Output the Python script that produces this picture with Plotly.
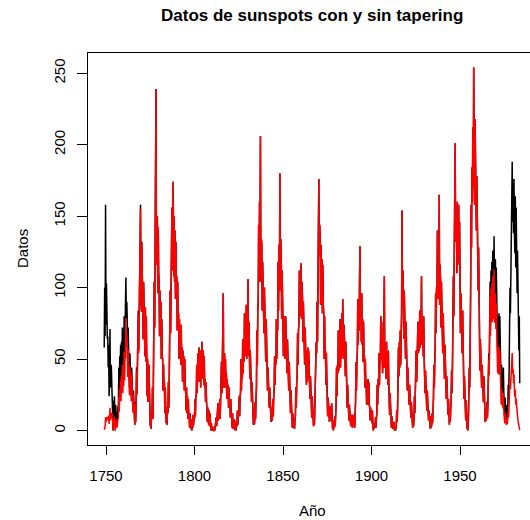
import numpy as np
import plotly.graph_objects as go

# Monthly sunspot numbers at ~quarterly resolution (1749 - 1983)
start_year = 1749
per_year = 4
sunspots = [
    58, 100, 66, 158,    # 1749
    74, 103, 84, 64,     # 1750
    66, 44, 60, 24,      # 1751
    36, 71, 30, 46,      # 1752
    45, 32, 39, 7,       # 1753
    0, 21, 12, 24,       # 1754
    11, 0, 18, 6,        # 1755
    13, 4, 12, 17,       # 1756
    16, 44, 24, 52,      # 1757
    38, 60, 34, 62,      # 1758
    44, 72, 40, 62,      # 1759
    46, 80, 50, 76,      # 1760
    70, 107, 78, 90,     # 1761
    78, 48, 72, 44,      # 1762
    58, 30, 54, 36,      # 1763
    48, 24, 44, 28,      # 1764
    30, 14, 28, 12,      # 1765
    16, 4, 20, 6,        # 1766
    20, 44, 26, 62,      # 1767
    46, 84, 56, 94,      # 1768
    80, 112, 158, 90,    # 1769
    84, 132, 80, 104,    # 1770
    64, 104, 66, 92,     # 1771
    52, 86, 48, 80,      # 1772
    46, 24, 50, 20,      # 1773
    24, 46, 18, 36,      # 1774
    3, 12, 1, 11,        # 1775
    10, 30, 8, 32,       # 1776
    54, 104, 72, 138,    # 1777
    178, 239, 116, 150,  # 1778
    150, 96, 142, 110,   # 1779
    104, 66, 98, 68,     # 1780
    90, 50, 78, 52,      # 1781
    50, 28, 46, 30,      # 1782
    34, 12, 30, 14,      # 1783
    5, 16, 4, 15,        # 1784
    12, 34, 16, 38,      # 1785
    56, 98, 68, 112,     # 1786
    104, 156, 112, 174,  # 1787
    160, 108, 150, 104,  # 1788
    140, 92, 132, 102,   # 1789
    108, 70, 104, 76,    # 1790
    82, 50, 78, 54,      # 1791
    72, 46, 74, 48,      # 1792
    58, 34, 56, 36,      # 1793
    52, 28, 50, 32,      # 1794
    28, 14, 30, 12,      # 1795
    24, 8, 22, 10,       # 1796
    10, 2, 12, 2,        # 1797
    1, 8, 0, 7,          # 1798
    2, 11, 4, 10,        # 1799
    8, 22, 10, 24,       # 1800
    24, 46, 26, 42,      # 1801
    54, 34, 58, 36,      # 1802
    34, 56, 30, 52,      # 1803
    40, 62, 36, 56,      # 1804
    54, 32, 52, 30,      # 1805
    36, 20, 34, 22,      # 1806
    14, 6, 16, 5,        # 1807
    4, 14, 3, 12,        # 1808
    4, 0, 5, 1,          # 1809
    0, 1, 0, 0,          # 1810
    0, 3, 0, 4,          # 1811
    2, 9, 3, 8,          # 1812
    8, 19, 7, 17,        # 1813
    9, 22, 8, 19,        # 1814
    22, 48, 26, 50,      # 1815
    34, 96, 30, 46,      # 1816
    54, 30, 50, 32,      # 1817
    40, 22, 36, 24,      # 1818
    32, 16, 30, 18,      # 1819
    21, 9, 22, 10,       # 1820
    10, 2, 12, 3,        # 1821
    1, 8, 1, 7,          # 1822
    0, 4, 0, 4,          # 1823
    3, 14, 4, 14,        # 1824
    10, 24, 10, 24,      # 1825
    26, 50, 28, 44,      # 1826
    36, 64, 40, 60,      # 1827
    48, 82, 52, 78,      # 1828
    52, 88, 50, 80,      # 1829
    58, 106, 52, 76,     # 1830
    60, 36, 56, 40,      # 1831
    36, 20, 34, 20,      # 1832
    12, 4, 14, 4,        # 1833
    6, 20, 8, 22,        # 1834
    30, 70, 46, 84,      # 1835
    90, 144, 104, 160,   # 1836
    132, 206, 104, 134,  # 1837
    130, 84, 118, 86,    # 1838
    106, 68, 100, 70,    # 1839
    82, 48, 78, 52,      # 1840
    48, 28, 44, 28,      # 1841
    32, 16, 30, 18,      # 1842
    14, 6, 16, 7,        # 1843
    8, 22, 10, 24,       # 1844
    28, 52, 32, 50,      # 1845
    46, 78, 50, 74,      # 1846
    70, 118, 84, 130,    # 1847
    104, 180, 98, 134,   # 1848
    122, 78, 112, 76,    # 1849
    84, 52, 80, 54,      # 1850
    78, 50, 80, 52,      # 1851
    66, 40, 64, 46,      # 1852
    52, 28, 48, 30,      # 1853
    28, 12, 28, 14,      # 1854
    10, 2, 12, 3,        # 1855
    2, 7, 1, 7,          # 1856
    10, 30, 16, 34,      # 1857
    38, 68, 46, 70,      # 1858
    76, 112, 82, 106,    # 1859
    80, 117, 78, 104,    # 1860
    92, 62, 90, 66,      # 1861
    72, 46, 72, 48,      # 1862
    54, 32, 56, 34,      # 1863
    58, 36, 56, 38,      # 1864
    38, 22, 38, 24,      # 1865
    22, 9, 24, 11,       # 1866
    10, 3, 12, 4,        # 1867
    18, 44, 28, 62,      # 1868
    54, 90, 62, 94,      # 1869
    112, 176, 122, 144,  # 1870
    136, 88, 130, 92,    # 1871
    120, 82, 116, 88,    # 1872
    82, 50, 80, 52,      # 1873
    56, 32, 54, 36,      # 1874
    24, 10, 23, 11,      # 1875
    15, 6, 17, 7,        # 1876
    17, 7, 19, 7,        # 1877
    1, 6, 0, 7,          # 1878
    2, 10, 3, 11,        # 1879
    18, 44, 24, 46,      # 1880
    40, 70, 42, 66,      # 1881
    46, 78, 44, 72,      # 1882
    50, 82, 52, 92,      # 1883
    76, 50, 74, 50,      # 1884
    64, 38, 62, 42,      # 1885
    34, 16, 32, 18,      # 1886
    19, 7, 18, 8,        # 1887
    10, 3, 11, 3,        # 1888
    9, 2, 11, 3,         # 1889
    3, 11, 2, 12,        # 1890
    20, 48, 28, 50,      # 1891
    54, 92, 60, 88,      # 1892
    70, 106, 129, 76,    # 1893
    94, 62, 96, 60,      # 1894
    78, 48, 76, 52,      # 1895
    52, 30, 50, 34,      # 1896
    34, 18, 32, 20,      # 1897
    36, 18, 34, 18,      # 1898
    16, 7, 16, 8,        # 1899
    13, 5, 14, 6,        # 1900
    0, 5, 1, 5,          # 1901
    2, 9, 2, 8,          # 1902
    12, 32, 18, 36,      # 1903
    30, 54, 32, 52,      # 1904
    48, 80, 50, 76,      # 1905
    64, 40, 66, 44,      # 1906
    76, 108, 44, 54,     # 1907
    60, 36, 62, 36,      # 1908
    54, 32, 56, 34,      # 1909
    26, 11, 26, 12,      # 1910
    9, 2, 10, 2,         # 1911
    1, 6, 2, 6,          # 1912
    0, 3, 0, 3,          # 1913
    3, 14, 6, 16,        # 1914
    32, 58, 38, 62,      # 1915
    44, 70, 46, 68,      # 1916
    82, 154, 88, 112,    # 1917
    96, 64, 98, 66,      # 1918
    78, 50, 76, 52,      # 1919
    46, 28, 44, 32,      # 1920
    34, 18, 32, 20,      # 1921
    19, 9, 20, 9,        # 1922
    8, 2, 10, 3,         # 1923
    8, 24, 12, 26,       # 1924
    30, 56, 34, 60,      # 1925
    52, 76, 54, 74,      # 1926
    56, 84, 58, 78,      # 1927
    64, 108, 60, 76,     # 1928
    78, 52, 80, 52,      # 1929
    44, 26, 42, 30,      # 1930
    28, 14, 28, 14,      # 1931
    15, 7, 14, 8,        # 1932
    9, 1, 10, 2,         # 1933
    4, 12, 5, 14,        # 1934
    22, 46, 30, 48,      # 1935
    60, 96, 68, 100,     # 1936
    96, 140, 92, 132,    # 1937
    92, 165, 88, 116,    # 1938
    106, 72, 104, 74,    # 1939
    82, 54, 82, 54,      # 1940
    58, 36, 60, 36,      # 1941
    38, 22, 38, 24,      # 1942
    21, 11, 22, 11,      # 1943
    4, 14, 6, 15,        # 1944
    20, 42, 26, 46,      # 1945
    70, 108, 80, 116,    # 1946
    128, 201, 140, 132,  # 1947
    150, 110, 160, 124,  # 1948
    140, 158, 116, 146,  # 1949
    98, 68, 96, 72,      # 1950
    82, 54, 84, 56,      # 1951
    40, 22, 38, 26,      # 1952
    19, 7, 21, 8,        # 1953
    1, 8, 0, 8,          # 1954
    22, 44, 30, 56,      # 1955
    96, 158, 128, 184,   # 1956
    160, 212, 170, 254,  # 1957
    206, 158, 218, 162,  # 1958
    190, 140, 178, 130,  # 1959
    146, 98, 128, 80,    # 1960
    66, 42, 64, 40,      # 1961
    44, 30, 46, 28,      # 1962
    34, 20, 38, 18,      # 1963
    14, 6, 14, 7,        # 1964
    11, 20, 9, 19,       # 1965
    30, 54, 42, 62,      # 1966
    104, 74, 112, 86,    # 1967
    118, 88, 126, 92,    # 1968
    98, 136, 92, 96,     # 1969
    120, 90, 114, 94,    # 1970
    82, 54, 80, 54,      # 1971
    82, 56, 80, 60,      # 1972
    50, 28, 46, 28,      # 1973
    40, 26, 44, 26,      # 1974
    21, 9, 23, 10,       # 1975
    14, 8, 18, 10,       # 1976
    16, 32, 22, 42,      # 1977
    74, 100, 82, 116,    # 1978
    134, 166, 188, 146,  # 1979
    168, 138, 176, 138,  # 1980
    124, 164, 114, 156,  # 1981
    138, 96, 126, 94,    # 1982
    92, 56, 80, 33,      # 1983
]

x_ticks = [1750, 1800, 1850, 1900, 1950]
y_ticks = [0, 50, 100, 150, 200, 250]

title_text = "Datos de sunspots con y sin tapering"
x_label = "Año"
y_label = "Datos"

# ---- series and its tapered version (10% cosine taper at each end) ----
y = np.array(sunspots, dtype=float)
n = len(y)
t = start_year + np.arange(n) / per_year
m = int(np.floor(n * 0.1))
w = np.sin(np.pi * np.arange(1, 2 * m, 2) / (4 * m))
tapered = y.copy()
tapered[:m] *= w
tapered[n - m:] *= w[::-1]

FONT = "Liberation Sans, Arial, Helvetica, sans-serif"

fig = go.Figure()
fig.add_trace(go.Scatter(x=t, y=y, mode="lines",
                         line=dict(color="black", width=1.5), hoverinfo="skip"))
fig.add_trace(go.Scatter(x=t, y=tapered, mode="lines",
                         line=dict(color="#ff0000", width=1.5), hoverinfo="skip"))

L, T, B = 88, 53, 75
W, H = 530, 520
pw = W - L
ph = H - T - B

fig.update_layout(
    width=W, height=H,
    margin=dict(l=L, r=0, t=T, b=B, pad=0),
    paper_bgcolor="white", plot_bgcolor="white",
    showlegend=False,
    font=dict(family=FONT, size=15, color="black"),
)
fig.update_xaxes(
    range=[1739.83, 1989.55], tickvals=x_ticks, ticktext=[str(v) for v in x_ticks],
    showgrid=False, zeroline=False, showline=True, linecolor="black", linewidth=1,
    mirror=True, ticks="outside", ticklen=9, tickwidth=1, tickcolor="black",
    ticklabelstandoff=8, tickfont=dict(size=15, family=FONT),
)
fig.update_yaxes(
    range=[-10.16, 264.16], tickvals=y_ticks, ticktext=[str(v) for v in y_ticks],
    showgrid=False, zeroline=False, showline=True, linecolor="black", linewidth=1,
    mirror=False, ticks="outside", ticklen=10, tickwidth=1, tickcolor="black",
    tickangle=-90, ticklabelstandoff=6, tickfont=dict(size=15, family=FONT),
)

cx = (312 - L) / pw
fig.add_annotation(text="<b>" + title_text + "</b>", xref="paper", yref="paper",
                   x=cx, y=1 + (T - 16) / ph, xanchor="center", yanchor="middle",
                   showarrow=False, font=dict(size=17, family=FONT, color="black"))
fig.add_annotation(text=x_label, xref="paper", yref="paper",
                   x=cx, y=-(510 - (T + ph)) / ph, xanchor="center", yanchor="middle",
                   showarrow=False, font=dict(size=15, family=FONT, color="black"))
fig.add_annotation(text=y_label, xref="paper", yref="paper",
                   x=-(L - 22) / pw, y=0.5, xanchor="center", yanchor="middle",
                   textangle=-90, showarrow=False,
                   font=dict(size=15, family=FONT, color="black"))

fig.write_html("out.html")
